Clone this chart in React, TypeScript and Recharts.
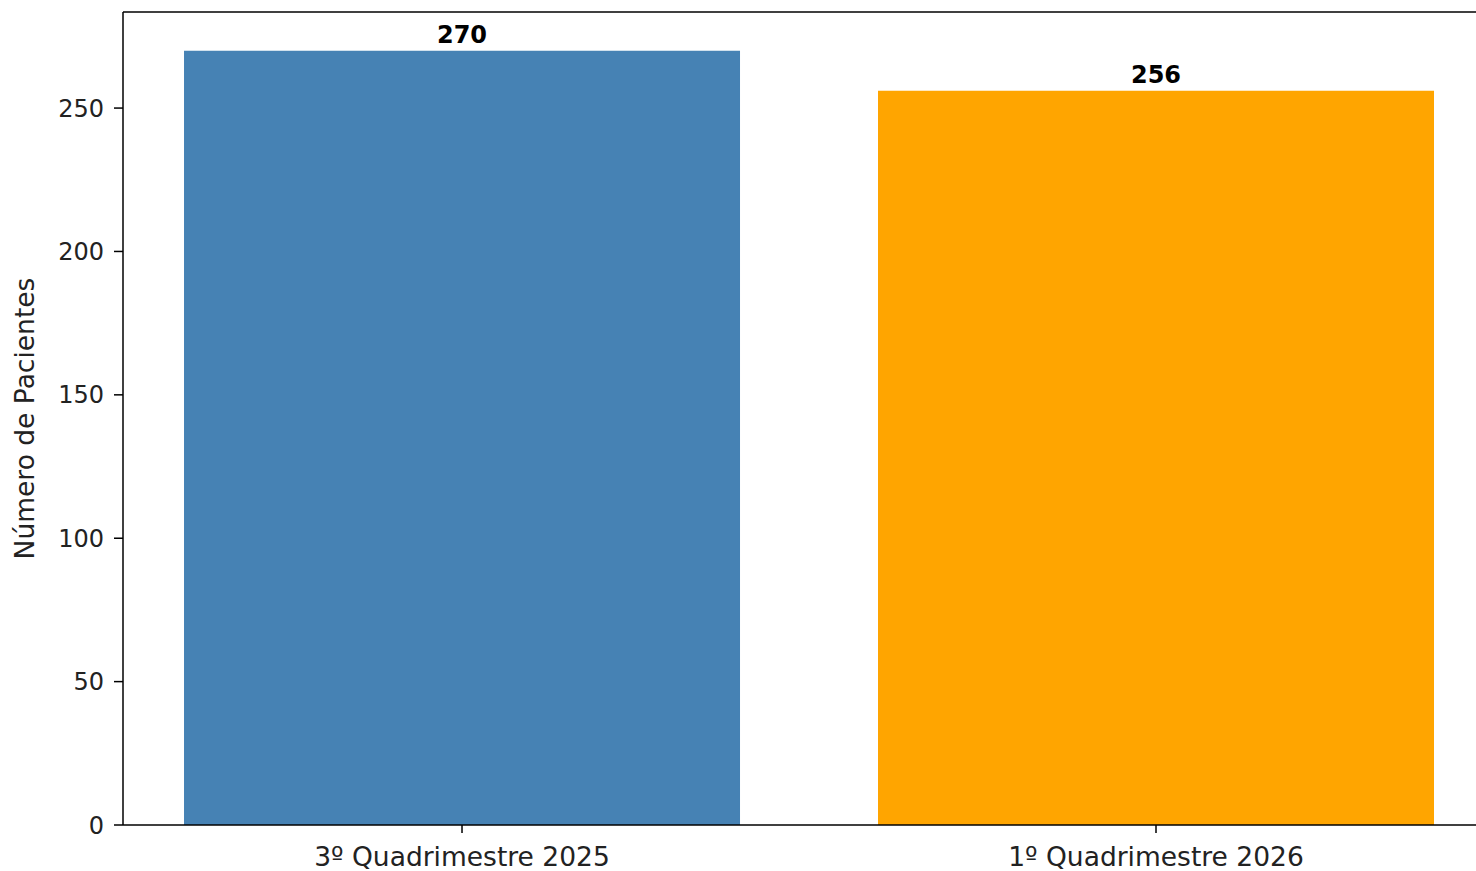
import React from "react";
import { BarChart, Bar, XAxis, YAxis, Cell, LabelList, ReferenceLine } from "recharts";

const categories = ["3º Quadrimestre 2025", "1º Quadrimestre 2026"];
const pacientes = [270, 256];
const colors = ["#4682B4", "#FFA500"];
const yTicks = [0, 50, 100, 150, 200, 250];

const data = categories.map((c, i) => ({ x: i, name: c, value: pacientes[i] }));

const FONT = "DejaVu Sans, Verdana, sans-serif";

export default function App() {
  return (
    <div style={{ position: "absolute", left: 0, top: 0, width: 1476, height: 871, background: "#fff", overflow: "hidden" }}>
      <BarChart
        width={1476}
        height={871}
        data={data}
        margin={{ top: 12, right: 0, bottom: 0, left: 0 }}
        style={{ fontFamily: FONT }}
      >
        <XAxis
          type="number"
          dataKey="x"
          domain={[-0.4885, 1.4611]}
          ticks={[0, 1]}
          allowDataOverflow
          tickFormatter={(v: number) => categories[v] ?? ""}
          height={46}
          tickSize={8}
          tickMargin={14}
          axisLine={{ stroke: "#000", strokeWidth: 1.5 }}
          tickLine={{ stroke: "#000", strokeWidth: 1.5 }}
          tick={{ fill: "#222", fontSize: 26.5, fontFamily: FONT }}
        />
        <YAxis
          type="number"
          domain={[0, 283.5]}
          ticks={yTicks}
          allowDataOverflow
          width={123}
          tickSize={9}
          tickMargin={10}
          axisLine={{ stroke: "#000", strokeWidth: 1.5 }}
          tickLine={{ stroke: "#000", strokeWidth: 1.5 }}
          tick={{ fill: "#222", fontSize: 24, fontFamily: FONT }}
          label={{
            value: "Número de Pacientes",
            angle: -90,
            position: "insideLeft",
            offset: 25,
            style: { textAnchor: "middle", fontSize: 26.5, fill: "#222", fontFamily: FONT },
          }}
        />
        <ReferenceLine y={283.5} stroke="#000" strokeWidth={1.5} ifOverflow="extendDomain" />
        <Bar dataKey="value" barSize={556} isAnimationActive={false}>
          {data.map((d, i) => (
            <Cell key={d.name} fill={colors[i]} />
          ))}
          <LabelList
            dataKey="value"
            position="top"
            offset={8}
            style={{ fontSize: 24, fontWeight: "bold", fill: "#000", fontFamily: FONT }}
          />
        </Bar>
      </BarChart>
    </div>
  );
}
